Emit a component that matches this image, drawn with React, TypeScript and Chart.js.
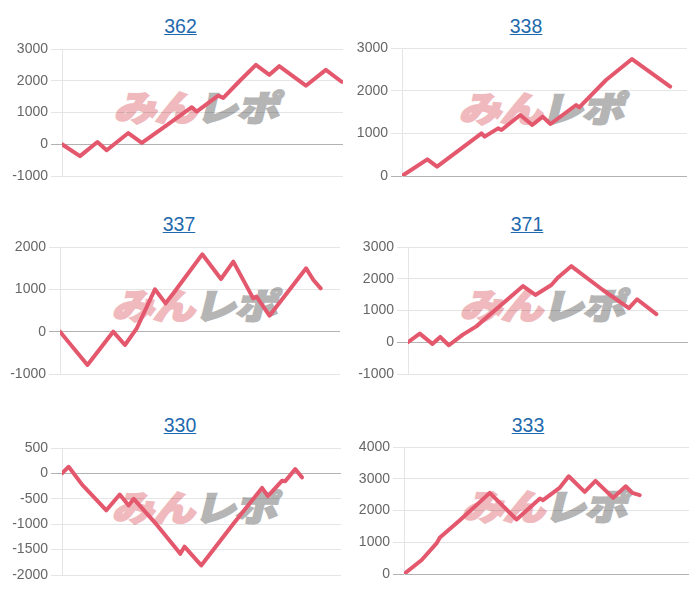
import React, { useEffect, useRef } from "react";
import { Chart, registerables } from "chart.js";

Chart.register(...registerables);

// ---- data ----
const titles = ["362", "338", "337", "371", "330", "333"];

const x362 = [0, 6.4, 12.6, 15.9, 23.6, 28.4, 37.2, 46.2, 47.9, 55.6, 57.4, 63.3, 69.0, 73.8, 77.3, 86.8, 93.9, 99.5];
const y362 = [0, -375, 72, -188, 353, 41, 594, 1166, 1031, 1531, 1459, 2000, 2500, 2188, 2459, 1844, 2344, 1969];

const x338 = [0, 8.9, 12.3, 27.9, 29.0, 33.7, 34.9, 41.5, 45.7, 49.4, 52.1, 61.1, 62.2, 71.6, 80.7, 94.1];
const y338 = [0, 391, 219, 1000, 922, 1117, 1078, 1430, 1195, 1390, 1219, 1664, 1610, 2250, 2742, 2093];

const x337 = [0, 9.8, 19.0, 23.2, 27.4, 33.9, 37.7, 40.5, 50.8, 57.5, 61.9, 69.0, 70.2, 74.8, 87.9, 90.5, 93.1];
const y337 = [0, -787, 0, -315, 79, 1000, 669, 906, 1827, 1244, 1654, 787, 827, 378, 1496, 1220, 1024];

const x371 = [0, 4.2, 8.7, 11.5, 14.6, 19.6, 24.4, 41.1, 45.5, 51.2, 53.6, 58.3, 69.6, 78.9, 81.8, 88.7];
const y371 = [0, 271, -52, 167, -94, 240, 500, 1771, 1490, 1802, 2042, 2396, 1646, 1073, 1354, 885];

const x330 = [0, 2.4, 7.2, 15.9, 20.7, 23.9, 25.7, 34.1, 42.4, 43.9, 49.9, 61.5, 71.7, 73.8, 78.9, 80.0, 83.6, 86.0];
const y330 = [0, 130, -221, -727, -416, -630, -500, -1019, -1584, -1442, -1812, -987, -286, -448, -143, -156, 84, -78];

const x333 = [0, 6.2, 11.4, 12.6, 19.6, 30.1, 39.5, 47.7, 48.8, 54.7, 57.8, 63.4, 67.2, 73.4, 77.8, 80.1, 82.7];
const y333 = [0, 440, 963, 1152, 1696, 2555, 1717, 2377, 2325, 2723, 3079, 2586, 2932, 2398, 2764, 2555, 2482];

const xSeries = [x362, x338, x337, x371, x330, x333];
const ySeries = [y362, y338, y337, y371, y330, y333];

const yMins = [-1000, 0, -1000, -1000, -2000, 0];
const yMaxs = [3000, 3000, 2000, 3000, 500, 4000];
const ySteps = [1000, 1000, 1000, 1000, 500, 1000];

const watermarkA = "みん";
const watermarkB = "レポ";

// ---- layout / style ----
type Box = { L: number; R: number; T: number; B: number; tx: number; tb: number; wx: number; wy: number };
const boxes: Box[] = [
  { L: 62, R: 343, T: 49, B: 176, tx: 180.5, tb: 32.7, wx: 115, wy: 90 },
  { L: 402, R: 687, T: 48, B: 176, tx: 526, tb: 32.5, wx: 460, wy: 91 },
  { L: 60, R: 340, T: 247, B: 374, tx: 179, tb: 231, wx: 113, wy: 288 },
  { L: 408, R: 688, T: 247, B: 374, tx: 527, tb: 231, wx: 461, wy: 288 },
  { L: 62, R: 341, T: 448, B: 575, tx: 180, tb: 432, wx: 113, wy: 490 },
  { L: 404, R: 689, T: 447, B: 574, tx: 528, tb: 432, wx: 463, wy: 489 },
];

const AXIS_W = 58;
const PAD = 12;
const LINE_COLOR = "rgb(228, 88, 110)";
const FONT = '"Liberation Sans", Arial, sans-serif';

function ChartCell({ idx }: { idx: number }) {
  const ref = useRef<HTMLCanvasElement | null>(null);
  const b = boxes[idx];
  const w = b.R - b.L + AXIS_W;
  const h = b.B - b.T + PAD * 2;

  useEffect(() => {
    if (!ref.current) return;
    const xs = xSeries[idx];
    const ys = ySeries[idx];
    const chart = new Chart(ref.current, {
      type: "line",
      data: {
        datasets: [
          {
            data: xs.map((x, i) => ({ x, y: ys[i] })),
            borderColor: LINE_COLOR,
            backgroundColor: LINE_COLOR,
            borderWidth: 4,
            pointRadius: 0,
            tension: 0,
            fill: false,
            borderJoinStyle: "round",
            borderCapStyle: "round",
          },
        ],
      },
      options: {
        animation: false,
        responsive: false,
        maintainAspectRatio: false,
        layout: { padding: { left: 0, right: 0, top: PAD, bottom: PAD } },
        plugins: {
          legend: { display: false },
          tooltip: { enabled: false },
          title: { display: false },
        },
        scales: {
          x: { type: "linear", min: 0, max: 100, display: false },
          y: {
            min: yMins[idx],
            max: yMaxs[idx],
            ticks: {
              stepSize: ySteps[idx],
              color: "#666",
              font: { family: FONT, size: 14 },
              padding: 3,
              callback: (v: any) => String(v),
            },
            grid: {
              color: (ctx: any) =>
                ctx.tick && ctx.tick.value === 0 ? "rgba(0,0,0,0.3)" : "rgba(0,0,0,0.1)",
              tickLength: 11,
            },
            border: { color: "rgba(0,0,0,0.1)" },
            afterFit: (scale: any) => {
              scale.width = AXIS_W;
            },
          },
        },
      },
    } as any);
    return () => chart.destroy();
  }, [idx]);

  return (
    <>
      <div
        style={{
          position: "absolute",
          left: b.tx - 60,
          top: b.tb - 17.75,
          width: 120,
          textAlign: "center",
          fontFamily: FONT,
          fontSize: 19.5,
          lineHeight: "22px",
        }}
      >
        <a href="#" style={{ color: "#1f6aad", textDecoration: "underline" }}>
          {titles[idx]}
        </a>
      </div>
      <div
        style={{
          position: "absolute",
          left: b.wx - 2,
          top: b.wy - 8,
          whiteSpace: "nowrap",
          fontFamily: '"Noto Sans CJK JP", sans-serif',
          fontWeight: 900,
          fontSize: 42,
          lineHeight: "42px",
          letterSpacing: -1,
          transform: "skewX(-14deg) scaleY(0.84)",
          transformOrigin: "left bottom",
        }}
      >
        <span style={{ color: "#efb9bd", WebkitTextStroke: "2.5px #efb9bd" }}>{watermarkA}</span>
        <span style={{ color: "#b5b5b5", WebkitTextStroke: "2.5px #b5b5b5" }}>{watermarkB}</span>
      </div>
      <canvas
        ref={ref}
        width={w}
        height={h}
        style={{
          position: "absolute",
          left: b.L - AXIS_W,
          top: b.T - PAD,
          width: w,
          height: h,
        }}
      />
    </>
  );
}

export default function App() {
  return (
    <div
      style={{
        position: "absolute",
        left: 0,
        top: 0,
        width: 700,
        height: 600,
        background: "#fff",
        overflow: "hidden",
      }}
    >
      {titles.map((_, i) => (
        <ChartCell key={i} idx={i} />
      ))}
    </div>
  );
}
